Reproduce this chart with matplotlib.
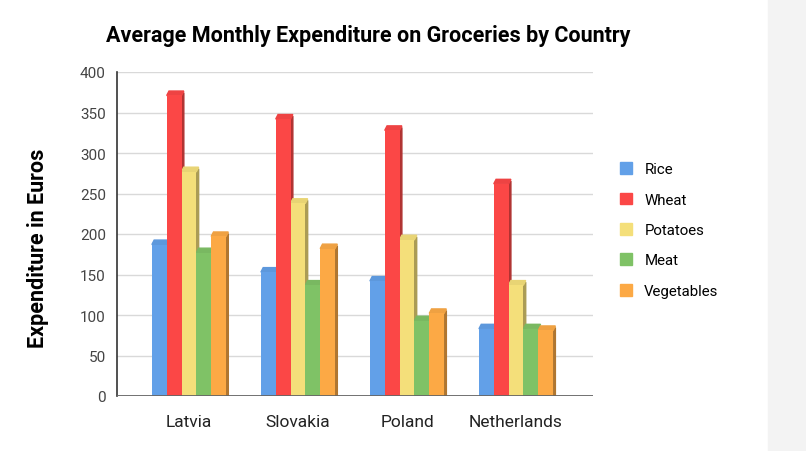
import numpy as np
import matplotlib.pyplot as plt
from matplotlib.patches import Polygon, Rectangle
from matplotlib.colors import to_rgb

plt.rcParams['font.family'] = ['Roboto', 'DejaVu Sans']

# data
countries = ['Latvia', 'Slovakia', 'Poland', 'Netherlands']
series = ['Rice', 'Wheat', 'Potatoes', 'Meat', 'Vegetables']
rice = [192, 158, 147, 88]
wheat = [376, 347, 333, 267]
potatoes = [282, 243, 198, 142]
meat = [182, 142, 98, 88]
vegetables = [202, 187, 107, 86]
values = [rice, wheat, potatoes, meat, vegetables]
colors = ['#62a0e8', '#fb4746', '#f4df7a', '#7fc266', '#fca945']
yticks = [0, 50, 100, 150, 200, 250, 300, 350, 400]


def shade(c, f):
    r, g, b = to_rgb(c)
    return (r * f, g * f, b * f)


fig = plt.figure(figsize=(8.06, 4.52), dpi=100)
fig.patches.append(Rectangle((768 / 806, 0), 1, 1, transform=fig.transFigure,
                             color='#f3f3f3', zorder=0))
ax = fig.add_axes([117 / 806, 55 / 452, 476 / 806, 324 / 452])

x = np.arange(len(countries))
bw = 0.136
dx = 0.035  # depth of the fake 3d side
dy = 5      # depth in data units
start = -2 * bw

for i, (name, vals) in enumerate(zip(series, values)):
    xs = x + start + i * bw
    for xc, v in zip(xs, vals):
        left = xc - bw / 2
        # side face
        ax.add_patch(Polygon([(left + bw, 0), (left + bw + dx * 0.6, 0),
                              (left + bw + dx * 0.6, v - dy * 0.3),
                              (left + bw, v - dy)],
                             closed=True, color=shade(colors[i], 0.7), zorder=3))
        # top face
        ax.add_patch(Polygon([(left, v - dy), (left + bw, v - dy),
                              (left + bw + dx * 0.6, v - dy * 0.3 + 2),
                              (left + dx * 0.6, v - dy * 0.3 + 2)],
                             closed=True, color=shade(colors[i], 0.95), zorder=3))
    ax.bar(xs, [v - dy for v in vals], width=bw, color=colors[i], label=name,
           zorder=4, linewidth=0)

ax.set_xlim(-0.66, 3.706)
ax.set_ylim(0, 400)
ax.set_yticks(yticks)
ax.set_xticks(x)
ax.set_xticklabels(countries, fontsize=12.5, color='#222222')
ax.tick_params(axis='y', labelsize=11, colors='#444444', length=0, pad=8)
ax.tick_params(axis='x', length=0, pad=13)
ax.grid(axis='y', color='#d9d9d9', linewidth=1, zorder=0)
for s in ['top', 'right', 'bottom']:
    ax.spines[s].set_visible(False)
ax.spines['left'].set_color('#333333')
ax.spines['left'].set_linewidth(1.2)
ax.axhline(0, color='#666666', linewidth=1.3, zorder=5)

ax.set_ylabel('Expenditure in Euros', fontsize=15.5, fontweight='bold')
ax.yaxis.set_label_coords(-0.142, 0.46)
fig.text(368 / 806, 1 - 36 / 452, 'Average Monthly Expenditure on Groceries by Country',
         ha='center', va='center', fontsize=15.5, fontweight='bold')

handles = [Rectangle((0, 0), 1, 1, color=c) for c in colors]
fig.legend(handles, series, loc='center left', bbox_to_anchor=(606 / 806, 1 - 231 / 452),
           frameon=False, fontsize=10.8, handlelength=0.85, handleheight=0.85,
           labelspacing=1.08, handletextpad=0.8)

fig.savefig('out.png', dpi=100)
